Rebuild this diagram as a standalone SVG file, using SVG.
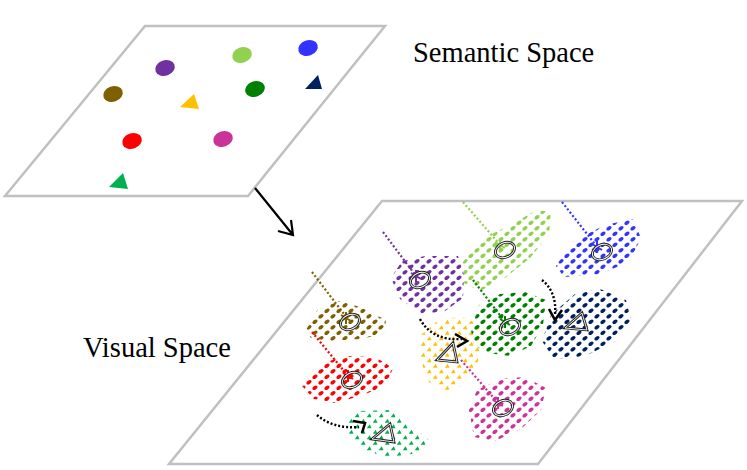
<svg xmlns="http://www.w3.org/2000/svg" width="747" height="470" viewBox="0 0 747 470">
<style>
.plane{fill:#fff;stroke:#c0c0c0;stroke-width:2.5}
.lbl{font-family:"Liberation Serif","Times New Roman",serif;font-size:28.5px;fill:#000}
.lead{fill:none;stroke-width:2.2;stroke-dasharray:2 2.2}
.star{fill:none;stroke-width:2}
.barr{fill:none;stroke:#000;stroke-width:2.4;stroke-dasharray:2 2}
.head{fill:none;stroke:#000;stroke-width:2.6;stroke-linejoin:miter}
.mk{fill:none;stroke:#222;stroke-width:2.8}
.mki{fill:none;stroke:#fff;stroke-width:0.9}
</style>
<defs>
<ellipse id="d" cx="0" cy="0" rx="2.8" ry="1.8" transform="rotate(-35)"/>
<path id="t" d="M-2.3,2 L0.7,-2.1 L2.5,2 Z"/>
<path id="s" d="M-5,-3 L5,3 M0,-6 L0,6 M5,-3 L-5,3"/>
<pattern id="p-lg" width="12" height="11" patternUnits="userSpaceOnUse"><g fill="#92D050"><use href="#d" x="3" y="2.8"/><use href="#d" x="9" y="8.3"/></g></pattern>
<pattern id="p-pu" width="12" height="11" patternUnits="userSpaceOnUse"><g fill="#7030A0"><use href="#d" x="3" y="2.8"/><use href="#d" x="9" y="8.3"/></g></pattern>
<pattern id="p-br" width="12" height="11" patternUnits="userSpaceOnUse"><g fill="#7F6000"><use href="#d" x="3" y="2.8"/><use href="#d" x="9" y="8.3"/></g></pattern>
<pattern id="p-rd" width="12" height="11" patternUnits="userSpaceOnUse"><g fill="#FF0000"><use href="#d" x="3" y="2.8"/><use href="#d" x="9" y="8.3"/></g></pattern>
<pattern id="p-dg" width="12" height="11" patternUnits="userSpaceOnUse"><g fill="#008000"><use href="#d" x="3" y="2.8"/><use href="#d" x="9" y="8.3"/></g></pattern>
<pattern id="p-mg" width="12" height="11" patternUnits="userSpaceOnUse"><g fill="#CC3399"><use href="#d" x="3" y="2.8"/><use href="#d" x="9" y="8.3"/></g></pattern>
<pattern id="p-bl" width="12" height="11" patternUnits="userSpaceOnUse"><g fill="#3333FF"><use href="#d" x="3" y="2.8"/><use href="#d" x="9" y="8.3"/></g></pattern>
<pattern id="p-nv" width="12" height="11" patternUnits="userSpaceOnUse"><g fill="#002060"><use href="#d" x="3" y="2.8"/><use href="#d" x="9" y="8.3"/></g></pattern>
<pattern id="p-ye" width="12" height="11" patternUnits="userSpaceOnUse"><g fill="#FFC000"><use href="#t" x="3" y="2.8"/><use href="#t" x="9" y="8.3"/></g></pattern>
<pattern id="p-gt" width="12" height="11" patternUnits="userSpaceOnUse"><g fill="#00B050"><use href="#t" x="3" y="2.8"/><use href="#t" x="9" y="8.3"/></g></pattern>
</defs>
<rect width="747" height="470" fill="#fff"/>

<g id="semantic-space">
<polygon class="plane" points="145,26 385,26 248,196 5,196"/>
<ellipse cx="165" cy="68" rx="10" ry="7.8" transform="rotate(-20 165 68)" fill="#7030A0"/>
<ellipse cx="242" cy="55" rx="10" ry="7.8" transform="rotate(-20 242 55)" fill="#92D050"/>
<ellipse cx="308" cy="48" rx="10" ry="7.8" transform="rotate(-20 308 48)" fill="#3333FF"/>
<ellipse cx="113" cy="94" rx="10" ry="7.8" transform="rotate(-20 113 94)" fill="#7F6000"/>
<ellipse cx="255" cy="89" rx="10" ry="7.8" transform="rotate(-20 255 89)" fill="#008000"/>
<ellipse cx="132" cy="141" rx="10" ry="7.8" transform="rotate(-20 132 141)" fill="#FF0000"/>
<ellipse cx="223" cy="139" rx="10" ry="7.8" transform="rotate(-20 223 139)" fill="#CC3399"/>
<polygon points="180,107 194,94 199,109" fill="#FFC000"/>
<polygon points="305,89 318,75 322,89" fill="#002060"/>
<polygon points="109,187 123,173 128,189" fill="#00B050"/>
</g>
<text class="lbl" x="413" y="62">Semantic Space</text>

<g id="visual-space">
<polygon class="plane" points="382,201 742,201 538,464 169,464"/>
</g>
<text class="lbl" x="83" y="357">Visual Space</text>

<g id="clusters">
<polygon id="c-lg" fill="url(#p-lg)" points="463,262 480,240 510,225 535,211 551,211 549,235 530,258 505,278 480,291 464,283"/>
<polygon id="c-pu" fill="url(#p-pu)" points="391,278 402,261 425,256 458,256 464,275 463,298 445,311 422,314 400,299"/>
<polygon id="c-br" fill="url(#p-br)" points="306,330 318,309 340,301 360,307 386,320 384,334 360,339 330,341 311,338"/>
<polygon id="c-rd" fill="url(#p-rd)" points="302,386 320,364 345,356 375,357 393,368 386,386 360,396 335,403 314,399"/>
<polygon id="c-gt" fill="url(#p-gt)" points="345,418 360,411 390,410 410,424 429,440 419,453 390,457 365,451 350,436"/>
<polygon id="c-ye" fill="url(#p-ye)" points="421,335 440,319 462,317 481,325 484,345 476,366 461,386 445,391 427,381 421,360"/>
<polygon id="c-dg" fill="url(#p-dg)" points="471,330 479,305 500,294 525,292 546,300 543,325 531,346 510,356 488,353 474,345"/>
<polygon id="c-mg" fill="url(#p-mg)" points="469,410 477,390 500,379 525,377 546,388 541,410 521,429 495,441 474,437"/>
<polygon id="c-bl" fill="url(#p-bl)" points="556,266 572,242 605,225 633,219 641,238 629,262 600,274 564,277"/>
<polygon id="c-nv" fill="url(#p-nv)" points="542,341 551,315 575,294 600,289 626,300 631,320 616,341 585,356 554,359"/>
</g>

<g id="connectors">
<path class="lead" stroke="#92D050" d="M463,202 L502,247"/>
<path class="lead" stroke="#7030A0" d="M383,232 L416,276"/>
<path class="lead" stroke="#7F6000" d="M312,272 L347,318"/>
<path class="lead" stroke="#FF0000" d="M312,332 L348,376"/>
<path class="lead" stroke="#008000" d="M473,280 L506,323"/>
<path class="lead" stroke="#CC3399" d="M461,360 L499,404"/>
<path class="lead" stroke="#3333FF" d="M562,202 L598,248"/>
<use href="#s" x="500" y="245" class="star" stroke="#92D050"/>
<use href="#s" x="416" y="276" class="star" stroke="#7030A0"/>
<use href="#s" x="346" y="318" class="star" stroke="#7F6000"/>
<use href="#s" x="348" y="376" class="star" stroke="#FF0000"/>
<use href="#s" x="505" y="322" class="star" stroke="#008000"/>
<use href="#s" x="498" y="403" class="star" stroke="#CC3399"/>
<use href="#s" x="597" y="247" class="star" stroke="#3333FF"/>
<path class="barr" d="M420,319 Q432,341 462,339"/>
<path class="head" d="M455,334 L467,341 L457,347"/>
<path class="barr" d="M317,415 Q333,429 359,427"/>
<path class="head" d="M353,421 L365,423 L362,433"/>
<path class="barr" d="M542,280 Q557,292 555,315"/>
<path class="head" d="M549,309 L555,320 L562,310"/>
<path d="M255,188 L293,235 M278,231 L293,235 L291,220" fill="none" stroke="#000" stroke-width="2.2"/>
</g>

<g id="markers">
<g id="m-lg"><ellipse cx="505" cy="250" rx="10" ry="7.2" transform="rotate(-25 505 250)" class="mk"/><ellipse cx="505" cy="250" rx="10" ry="7.2" transform="rotate(-25 505 250)" class="mki"/></g>
<g id="m-pu"><ellipse cx="420" cy="280" rx="10" ry="7.2" transform="rotate(-25 420 280)" class="mk"/><ellipse cx="420" cy="280" rx="10" ry="7.2" transform="rotate(-25 420 280)" class="mki"/></g>
<g id="m-br"><ellipse cx="350" cy="322" rx="10" ry="7.2" transform="rotate(-25 350 322)" class="mk"/><ellipse cx="350" cy="322" rx="10" ry="7.2" transform="rotate(-25 350 322)" class="mki"/></g>
<g id="m-rd"><ellipse cx="352" cy="380" rx="10" ry="7.2" transform="rotate(-25 352 380)" class="mk"/><ellipse cx="352" cy="380" rx="10" ry="7.2" transform="rotate(-25 352 380)" class="mki"/></g>
<g id="m-dg"><ellipse cx="510" cy="327" rx="10" ry="7.2" transform="rotate(-25 510 327)" class="mk"/><ellipse cx="510" cy="327" rx="10" ry="7.2" transform="rotate(-25 510 327)" class="mki"/></g>
<g id="m-mg"><ellipse cx="503" cy="408" rx="10" ry="7.2" transform="rotate(-25 503 408)" class="mk"/><ellipse cx="503" cy="408" rx="10" ry="7.2" transform="rotate(-25 503 408)" class="mki"/></g>
<g id="m-bl"><ellipse cx="602" cy="252" rx="10" ry="7.2" transform="rotate(-25 602 252)" class="mk"/><ellipse cx="602" cy="252" rx="10" ry="7.2" transform="rotate(-25 602 252)" class="mki"/></g>
<g id="m-gt"><polygon points="372,439 390,424 394,442" class="mk"/><polygon points="372,439 390,424 394,442" class="mki"/></g>
<g id="m-ye"><polygon points="437,360 453,343 457,362" class="mk"/><polygon points="437,360 453,343 457,362" class="mki"/></g>
<g id="m-nv"><polygon points="565,328 582,313 587,330" class="mk"/><polygon points="565,328 582,313 587,330" class="mki"/></g>
</g>
</svg>
